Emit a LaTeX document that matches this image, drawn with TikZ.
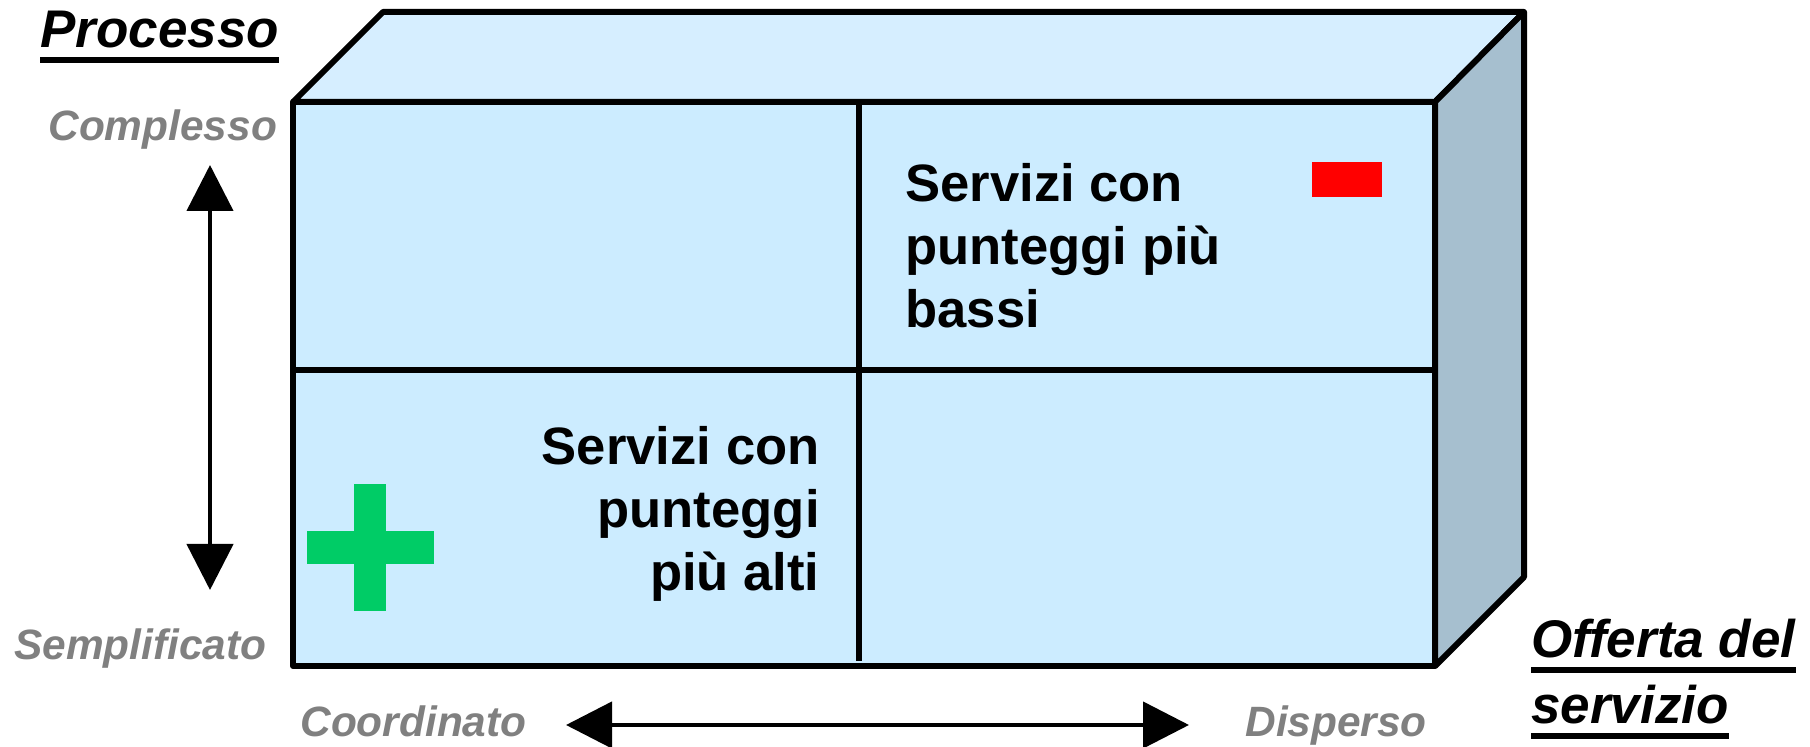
\documentclass[tikz,border=0pt]{standalone}
\usepackage{fontspec}
\setmainfont{Liberation Sans}
\usetikzlibrary{arrows.meta}

\definecolor{fronte}{RGB}{204,236,255}
\definecolor{sopra}{RGB}{214,238,255}
\definecolor{lato}{RGB}{166,191,207}
\definecolor{verde}{RGB}{0,204,102}
\definecolor{grigio}{RGB}{128,128,128}

\newsavebox\sottobox
\newcommand{\sottolineato}[1]{\sbox\sottobox{#1}\rlap{\rule[-0.28em]{\wd\sottobox}{0.11em}}\usebox\sottobox}

\tikzstyle{titolo} = [inner sep=0pt, font=\fontsize{26.5}{30}\selectfont\bfseries\itshape, anchor=base west]
\tikzstyle{estremo} = [inner sep=0pt, text=grigio, font=\fontsize{21.2}{25}\selectfont\bfseries\itshape, anchor=base west]
\tikzstyle{servizi} = [inner sep=0pt, font=\fontsize{26.3}{31.5}\selectfont\bfseries]
\tikzstyle{freccia} = [line width=2.2pt, {Triangle[length=23pt,width=23pt]}-{Triangle[length=23pt,width=23pt]}]
\tikzstyle{bordo} = [draw, line width=3pt, line join=round]
\tikzstyle{divisore} = [line width=3pt]

\begin{document}
\begin{tikzpicture}[x=0.5pt, y=-0.5pt]
    \useasboundingbox (0,0) rectangle (1810,747);

    % cubo
    \path[bordo, fill=sopra] (293,102) -- (383,12) -- (1524,12) -- (1435,102) -- cycle;
    \path[bordo, fill=lato] (1435,102) -- (1524,12) -- (1524,577) -- (1435,666) -- cycle;
    \path[bordo, fill=fronte] (293,102) rectangle (1435,666);
    \draw[divisore] (293,370) -- (1435,370);
    \draw[divisore] (859,102) -- (859,661);

    %-------------------------------------------------------------
    \fill[verde] (307,531) rectangle (434,564);
    \fill[verde] (354,484) rectangle (386,611);
    \fill[red] (1312,162) rectangle (1382,197);

    \node[servizi, anchor=north west, align=left] (alto) at (905,163) {Servizi con\\punteggi più\\bassi};
    \node[servizi, anchor=north east, align=right] (basso) at (820,426) {Servizi con\\punteggi\\più alti};

    %-------------------------------------------------------------
    \node[titolo] (P) at (40,48) {\sottolineato{Processo}};
    \node[titolo, anchor=north west, align=left] (O) at (1531,619) {\sottolineato{Offerta del}\\[3pt]\sottolineato{servizio}};

    \node[estremo] (C) at (48,141) {Complesso};
    \node[estremo] (S) at (14,660) {Semplificato};
    \node[estremo] (CO) at (300,737) {Coordinato};
    \node[estremo] (D) at (1245,737) {Disperso};

    % frecce
    \coordinate (su) at (210,165);
    \coordinate (giu) at (210,590);
    \coordinate (sx) at (566,725);
    \coordinate (dx) at (1189,725);
    \draw[freccia] (su) -- (giu);
    \draw[freccia] (sx) -- (dx);

\end{tikzpicture}
\end{document}
